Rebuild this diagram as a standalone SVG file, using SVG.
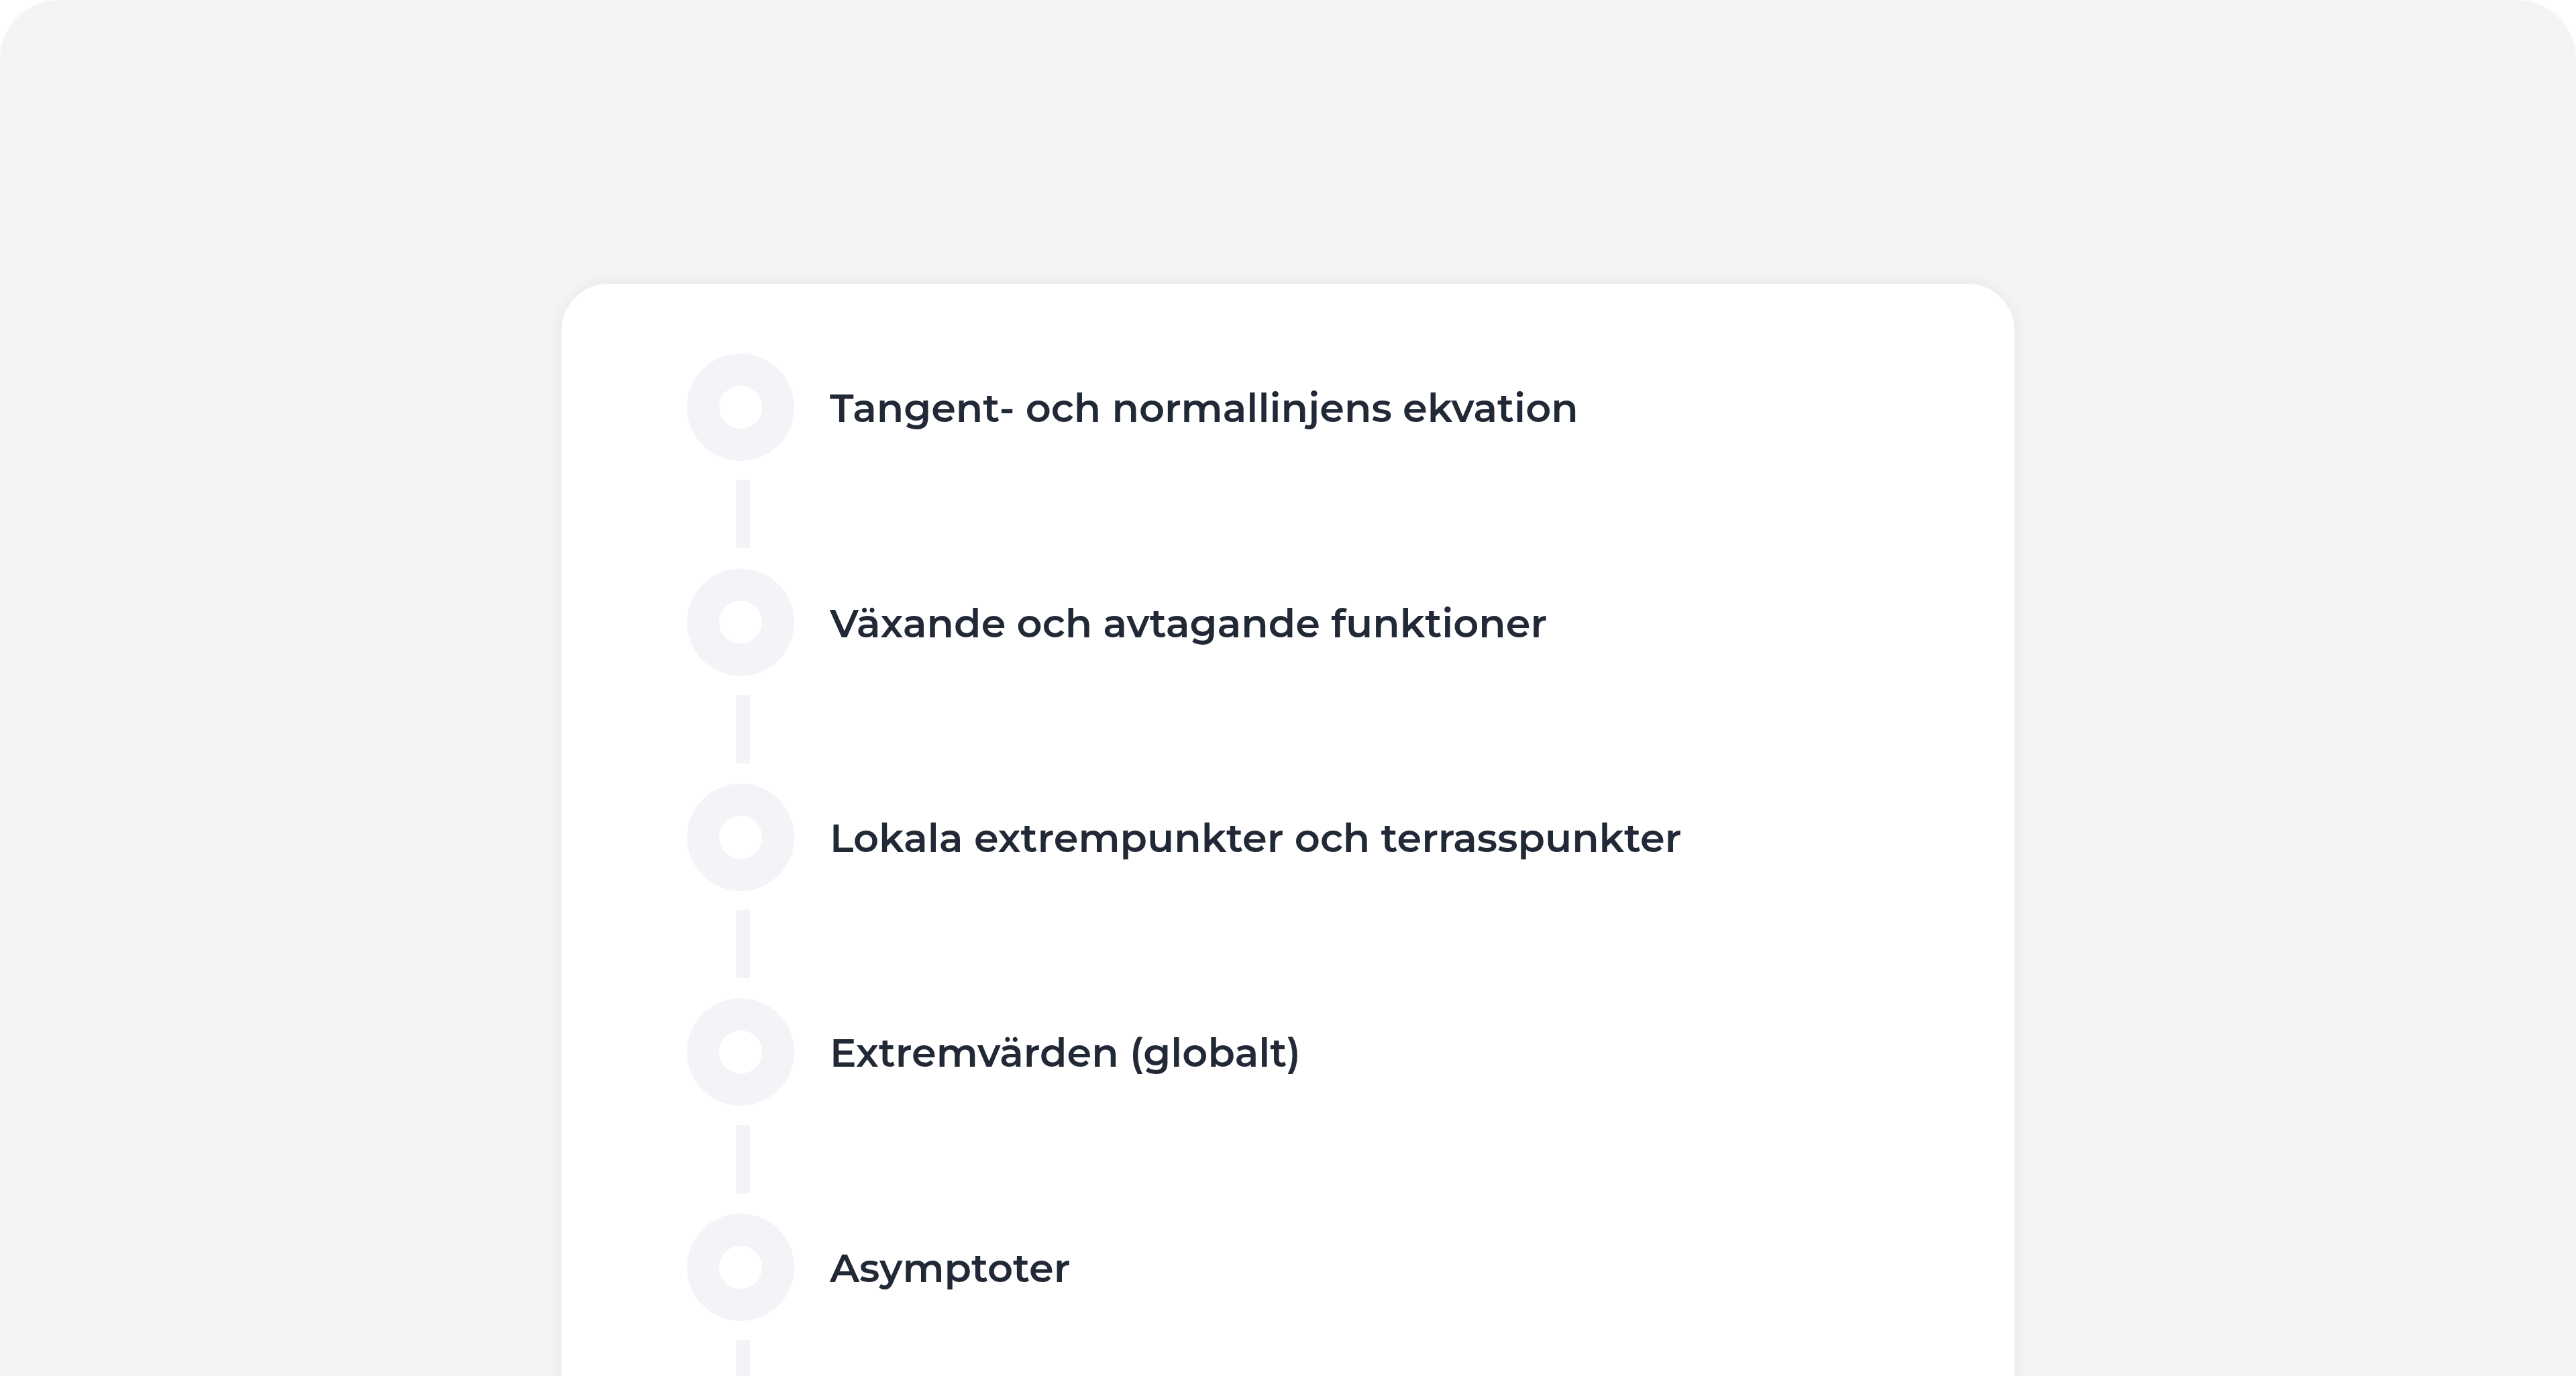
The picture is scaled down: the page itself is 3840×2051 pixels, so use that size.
<svg xmlns="http://www.w3.org/2000/svg" width="3840" height="2051" viewBox="0 0 3840 2051">
  <defs>
    <filter id="shadow" x="-10%" y="-10%" width="120%" height="120%">
      <feGaussianBlur in="SourceAlpha" stdDeviation="14"/>
      <feComponentTransfer><feFuncA type="linear" slope="0.06"/></feComponentTransfer>
      <feMerge><feMergeNode/><feMergeNode in="SourceGraphic"/></feMerge>
    </filter>
  </defs>
  <style>
    .ring { fill: none; stroke: #f3f4f7; stroke-width: 48; }
    .dash { fill: #f3f4f7; }
    .label { font-family: "Montserrat", Inter, "Noto Sans", "Liberation Sans", sans-serif; font-size: 59px; font-weight: 600; fill: #222936; }
  </style>
  <rect x="0" y="0" width="3840" height="2051" fill="#ffffff"/>
  <rect id="background" x="0" y="0" width="3840" height="2140" rx="88" ry="88" fill="#f4f4f4"/>
  <rect id="card" x="837" y="423" width="2166" height="1700" rx="70" ry="70" fill="#ffffff" filter="url(#shadow)"/>

  <g id="connectors">
    <rect class="dash" x="1097" y="715" width="21" height="102"/>
    <rect class="dash" x="1097" y="1036" width="21" height="102"/>
    <rect class="dash" x="1097" y="1356" width="21" height="102"/>
    <rect class="dash" x="1097" y="1677" width="21" height="102"/>
    <rect class="dash" x="1097" y="1997" width="21" height="60"/>
  </g>

  <g id="node-1">
    <circle class="ring" cx="1104" cy="607" r="56"/>
    <text class="label" x="1237" y="629">Tangent- och normallinjens ekvation</text>
  </g>
  <g id="node-2">
    <circle class="ring" cx="1104" cy="927.5" r="56"/>
    <text class="label" x="1237" y="950">Växande och avtagande funktioner</text>
  </g>
  <g id="node-3">
    <circle class="ring" cx="1104" cy="1248" r="56"/>
    <text class="label" x="1237" y="1270">Lokala extrempunkter och terrasspunkter</text>
  </g>
  <g id="node-4">
    <circle class="ring" cx="1104" cy="1568" r="56"/>
    <text class="label" x="1237" y="1590">Extremvärden (globalt)</text>
  </g>
  <g id="node-5">
    <circle class="ring" cx="1104" cy="1889" r="56"/>
    <text class="label" x="1237" y="1911">Asymptoter</text>
  </g>
</svg>
